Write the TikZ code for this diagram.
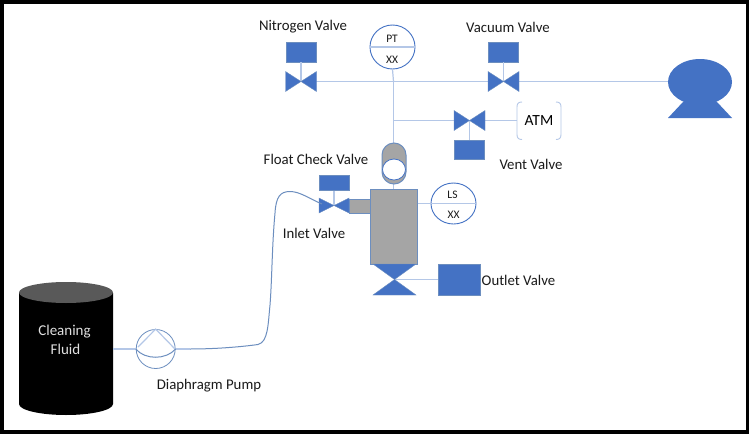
\documentclass[tikz,border=0pt]{standalone}
\usepackage{fontspec}
\usetikzlibrary{shapes.geometric}
\setmainfont{Carlito}
\definecolor{vblue}{HTML}{4472C4}
\definecolor{vline}{HTML}{B4C7E7}
\definecolor{vedge}{HTML}{6C8EBF}
\definecolor{vgray}{HTML}{A5A5A5}
\definecolor{txt}{HTML}{1A1A1A}
\tikzset{
  lbl/.style={inner sep=0pt,text=txt,font=\fontsize{14.8}{16}\selectfont},
  smalltxt/.style={inner sep=0pt,text=txt,font=\fontsize{11.5}{13}\selectfont},
  pipe/.style={draw=vline,line width=1.2pt},
  actuator/.style={fill=vblue,draw=vedge,line width=0.6pt,inner sep=0pt},
  valvefill/.style={fill=vblue,draw=vedge,line width=0.4pt},
  instr/.style={ellipse,draw=vblue,fill=white,line width=0.9pt,inner sep=0pt},
  graybody/.style={fill=vgray,draw=vedge,line width=1pt,inner sep=0pt},
  tube/.style={draw=vedge,line width=1pt},
}
\newcommand{\bowtieH}[2]{%
  \path[valvefill] (#1-15.5,#2-10) -- (#1,#2) -- (#1-15.5,#2+10) -- cycle;
  \path[valvefill] (#1+15.5,#2-10) -- (#1,#2) -- (#1+15.5,#2+10) -- cycle;
}
\begin{document}
\begin{tikzpicture}[x=1pt,y=-1pt]
\useasboundingbox (0,0) rectangle (750,434);
\fill[white] (0,0) rectangle (750,434);
\draw[black,line width=3.6pt] (1.8,2) rectangle (747.5,432);

% named points
\coordinate (junction) at (393.5,81.5);
\coordinate (tee) at (393.5,120.5);
\coordinate (atmleft) at (517,120.5);
\coordinate (pumpR) at (668,81.5);
\coordinate (nv) at (301,81.5);
\coordinate (vv) at (503.5,81.5);
\coordinate (ve) at (469.5,120.5);
\coordinate (iv) at (334,205.5);
\coordinate (ov) at (394.5,279.5);
\coordinate (canTop) at (393.5,143);
\coordinate (canBot) at (393.5,184);

% actuators
\node[actuator,minimum width=30pt,minimum height=20pt] (nact) at (301,52) {};
\node[actuator,minimum width=30pt,minimum height=20pt] (vact) at (503.5,52) {};
\node[actuator,minimum width=30pt,minimum height=19pt] (ventact) at (469.5,149.5) {};
\node[actuator,minimum width=30pt,minimum height=15.5pt] (iact) at (334,183) {};
\node[actuator,minimum width=42pt,minimum height=31pt] (oact) at (459,279.5) {};

% pipes
\draw[pipe] (nv) -- (pumpR);
\draw[pipe] (nact) -- (nv);
\draw[pipe] (vact) -- (vv);
\draw[pipe] (tee) -- (atmleft);
\draw[pipe] (ventact) -- (ve);
\draw[pipe] (iact) -- (iv);
\draw[pipe] (ov) -- (oact);
\draw[pipe] (junction) -- (canTop);
\draw[pipe] (canBot) -- (393.5,189);

% valves
\bowtieH{301}{81.5}
\bowtieH{503.5}{81.5}
\bowtieH{469.5}{120.5}
\path[valvefill] (319,198) -- (iv) -- (319,213) -- cycle;
\path[valvefill] (349,198) -- (iv) -- (349,213) -- cycle;

% float canister
\draw[graybody] (382,155) arc[start angle=180,end angle=360,x radius=12,y radius=12] -- (406,172) arc[start angle=0,end angle=180,x radius=12,y radius=12] -- cycle;
\draw[fill=white,draw=vblue,line width=0.8pt] (394,169.5) ellipse[x radius=11.5,y radius=10.5];

% vessel
\node[graybody,minimum width=21pt,minimum height=14pt] (stub) at (359.5,206) {};
\node[graybody,minimum width=47pt,minimum height=75pt] (vessel) at (393.5,226.5) {};
\path[valvefill] (373,264) -- (416,264) -- (ov) -- cycle;
\path[valvefill] (373,295) -- (416,295) -- (ov) -- cycle;

% instruments
\node[instr,minimum width=45pt,minimum height=44pt] (pt) at (392.5,47) {};
\draw[pipe] (pt.south) -- (junction);
\draw[pipe] (pt.west) -- (pt.east);
\node[smalltxt] (pttxt) at (392,39) {PT};
\node[smalltxt] (ptxx) at (392,60) {XX};
\node[instr,minimum width=45pt,minimum height=41pt] (ls) at (453.5,203.5) {};
\draw[pipe] (vessel.east |- ls) -- (ls.east);
\node[smalltxt] (lstxt) at (452.5,195) {LS};
\node[smalltxt] (lsxx) at (453.5,215) {XX};

% ATM
\draw[vline,line width=0.9pt] (522,102) .. controls (518.5,102) and (517,103.5) .. (517,107) -- (517,134.5) .. controls (517,138) and (518.5,139.5) .. (522,139.5);
\draw[vline,line width=0.9pt] (556,102) .. controls (559.5,102) and (561,103.5) .. (561,107) -- (561,134.5) .. controls (561,138) and (559.5,139.5) .. (556,139.5);
\node[inner sep=0pt,text=black,font=\fontsize{15.5}{17}\selectfont] (atm) at (539,121) {ATM};

% vacuum pump
\fill[vblue] (700,82) ellipse[x radius=32,y radius=23];
\fill[vblue] (683,102) -- (668,118) -- (732,118) -- (717,102) -- cycle;

% drum
\fill[black] (19,293) -- (19,404) arc[start angle=180,end angle=0,x radius=47,y radius=11] -- (113,293) -- cycle;
\fill[black!65] (66,292.5) ellipse[x radius=47,y radius=10.5];
\node[inner sep=0pt,text=white!88!black,font=\fontsize{15}{17}\selectfont] (clean) at (64.5,332) {Cleaning};
\node[inner sep=0pt,text=white!88!black,font=\fontsize{15}{17}\selectfont] (fluid) at (65.5,349) {Fluid};

% diaphragm pump
\coordinate (drumR) at (113,349);
\coordinate (tubeS) at (190,349);
\node[circle,draw=vedge,line width=0.8pt,minimum size=39pt,inner sep=0pt] (dp) at (155.7,349) {};
\draw[pipe] (drumR) -- (dp.west);
\draw[pipe] (dp.east) -- (tubeS);
\draw[pipe] (138,347) -- (dp.north) -- (175,349);
\draw[tube] (dp.west) .. controls (145,360) and (166,360) .. (dp.east);
\draw[tube] (tubeS) .. controls (215,349) and (240,347) .. (258,344.5)
  .. controls (268,342) and (268,325) .. (270,305)
  .. controls (272,280) and (272,245) .. (275,213)
  .. controls (276,197) and (280,191.5) .. (290,191.5)
  .. controls (300,191.5) and (310,199) .. (322,204);

% labels
\node[lbl] at (303,27) {Nitrogen Valve};
\node[lbl] at (508,27) {Vacuum Valve};
\node[lbl] at (531,164) {Vent Valve};
\node[lbl] at (316,159) {Float Check Valve};
\node[lbl] at (314,233) {Inlet Valve};
\node[lbl,anchor=west] at (481.5,280) {Outlet Valve};
\node[lbl] at (209,386) {Diaphragm Pump};
\end{tikzpicture}
\end{document}
